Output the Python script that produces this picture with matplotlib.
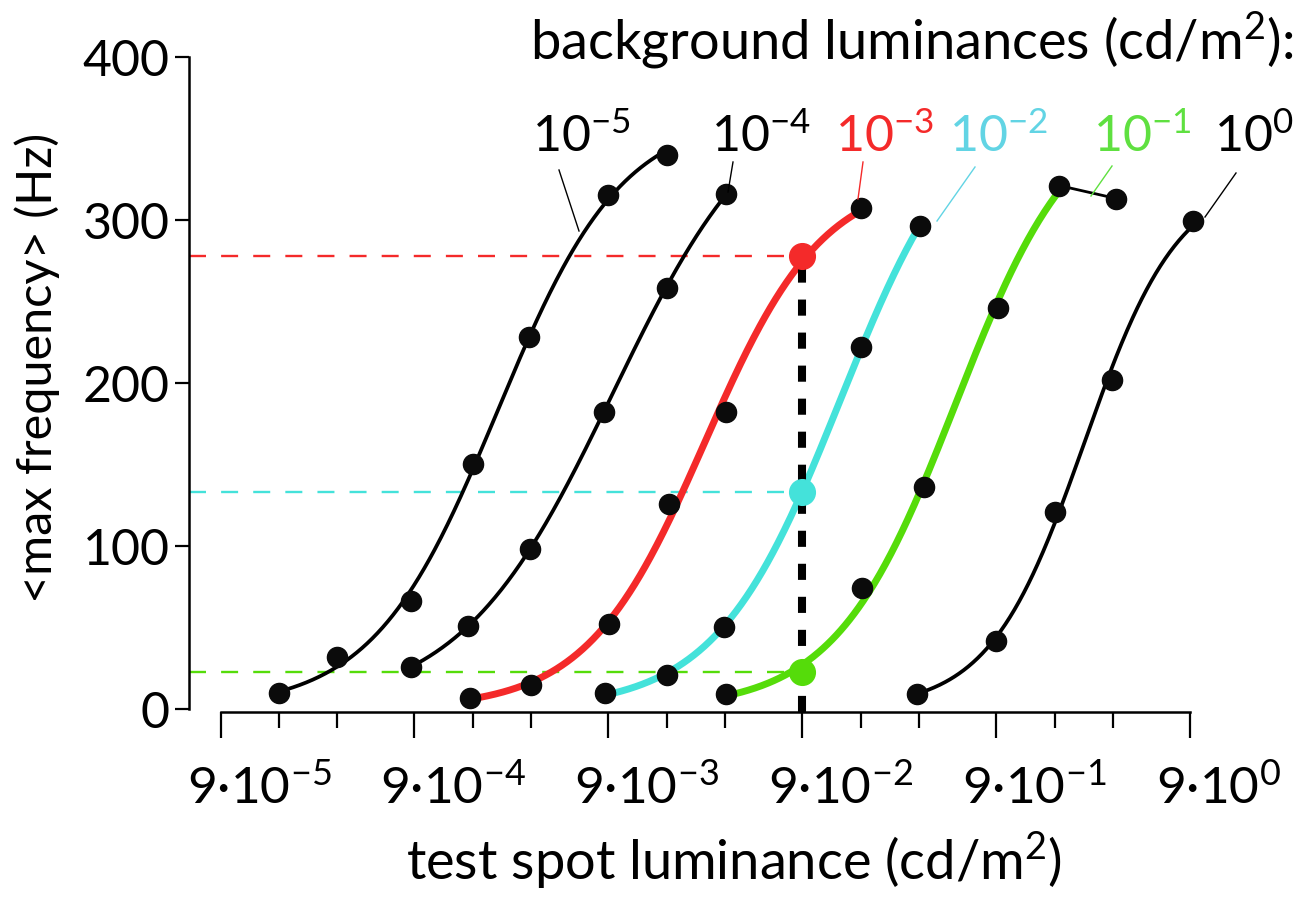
import numpy as np
import matplotlib.pyplot as plt
from matplotlib import font_manager
from matplotlib.lines import Line2D
from matplotlib.transforms import ScaledTranslation

installed = {f.name for f in font_manager.fontManager.ttflist}
family = 'Lato' if 'Lato' in installed else 'DejaVu Sans'
plt.rcParams['font.family'] = [family, 'DejaVu Sans']
plt.rcParams['mathtext.fontset'] = 'custom'
plt.rcParams['mathtext.rm'] = family
plt.rcParams['mathtext.default'] = 'rm'

# test spot luminance (cd/m^2) and mean max frequency (Hz), one pair per background
x_bg5 = [1.8e-4, 3.6e-4, 8.6e-4, 1.8e-3, 3.5e-3, 9.0e-3, 1.8e-2]
y_bg5 = [10, 32, 66, 150, 228, 315, 340]
x_bg4 = [8.6e-4, 1.7e-3, 3.55e-3, 8.5e-3, 1.8e-2, 3.65e-2]
y_bg4 = [26, 51, 98, 182, 258, 316]
x_bg3 = [1.75e-3, 3.6e-3, 9.1e-3, 1.85e-2, 3.65e-2, 9.0e-2, 0.18]
y_bg3 = [7, 15, 52, 126, 182, 278, 307]
x_bg2 = [8.7e-3, 1.8e-2, 3.55e-2, 9.0e-2, 0.18, 0.365]
y_bg2 = [10, 21, 50, 133, 222, 296]
x_bg1 = [3.65e-2, 9.0e-2, 0.183, 0.38, 0.92, 1.9]
y_bg1 = [9.5, 22.6, 74, 136, 246, 321]
x_bg1_sat = [1.9, 3.75]     # last point left out of the fit
y_bg1_sat = [321, 313]
x_bg0 = [0.35, 0.9, 1.8, 3.55, 9.3]
y_bg0 = [9, 42, 121, 202, 299]

bg_labels = ['$10^{-5}$', '$10^{-4}$', '$10^{-3}$', '$10^{-2}$', '$10^{-1}$', '$10^{0}$']
x_cross = 9e-2   # test luminance picked out on the three coloured curves

major_ticks = [9e-5, 9e-4, 9e-3, 9e-2, 9e-1, 9e0]
major_labels = ['9·10$^{-5}$', '9·10$^{-4}$', '9·10$^{-3}$', '9·10$^{-2}$',
                '9·10$^{-1}$', '9·10$^{0}$']
minor_ticks = [1.8e-4, 3.6e-4, 1.8e-3, 3.6e-3, 1.8e-2, 3.6e-2, 0.18, 0.36, 1.8, 3.6]

RED = '#f42a2a'
CYAN = '#44e2da'
GREEN = '#55dc0a'
CYAN_T = '#62d4e4'
GREEN_T = '#5fe040'
DOT = '#0b0b0b'


def hill_fit(x, y):
    # Poisson-weighted least squares Hill curve y = A / (1 + (c/x)^n),
    # grid over n and log c, A solved directly
    u = np.log10(np.asarray(x, float))
    y = np.asarray(y, float)
    w = 1.0 / y
    ns = np.linspace(1.0, 5.0, 161)
    cs = np.linspace(u.min() - 0.5, u.max() + 1.0, 601)
    N, C = np.meshgrid(ns, cs, indexing='ij')
    f = 1.0 / (1.0 + 10 ** (N[..., None] * (C[..., None] - u)))
    amp = (w * f * y).sum(-1) / (w * f * f).sum(-1)
    sse = (w * (amp[..., None] * f - y) ** 2).sum(-1)
    i = np.unravel_index(np.argmin(sse), sse.shape)
    return amp[i], ns[i[0]], cs[i[1]]


def hill(p, x):
    a, n, c = p
    return a / (1.0 + 10 ** (n * (c - np.log10(x))))


fig = plt.figure(figsize=(13.08, 9.03), dpi=100)
ax = fig.add_axes([189 / 1308, 1 - 713 / 903, 1011 / 1308, 663 / 903])
ax.set_xscale('log')
ax.set_xlim(6.19e-5, 10.13)
ax.set_ylim(-1.84, 404.7)

series = [
    (x_bg5, y_bg5, 'k', 2.7),
    (x_bg4, y_bg4, 'k', 2.7),
    (x_bg3, y_bg3, RED, 5.0),
    (x_bg2, y_bg2, CYAN, 5.0),
    (x_bg1, y_bg1, GREEN, 5.0),
    (x_bg0, y_bg0, 'k', 2.7),
]
for xs, ys, col, lw in series:
    p = hill_fit(xs, ys)
    xx = np.logspace(np.log10(xs[0]), np.log10(xs[-1]), 300)
    ax.plot(xx, hill(p, xx), color=col, lw=lw, solid_capstyle='round', zorder=3, clip_on=False)

# the responses at x_cross on the three coloured curves
picked = [(s[1][s[0].index(x_cross)], s[2]) for s in series[2:5]]
for v, col in picked:
    ax.plot([ax.get_xlim()[0], x_cross], [v, v], color=col, lw=1.7,
            linestyle=(0, (7.2, 6.4)), zorder=1, clip_on=False)
ax.plot([x_cross, x_cross], [ax.get_ylim()[0], picked[0][0]], color='k', lw=5.8,
        linestyle=(0, (2.0, 2.1)), zorder=4, clip_on=False)

ax.plot(x_bg1_sat, y_bg1_sat, color='k', lw=2.0, zorder=3)
for xs, ys, col, lw in series:
    keep = [i for i, xv in enumerate(xs) if col == 'k' or xv != x_cross]
    ax.plot([xs[i] for i in keep], [ys[i] for i in keep], 'o', color=DOT, ms=14.5,
            zorder=5, clip_on=False)
ax.plot(x_bg1_sat[1:], y_bg1_sat[1:], 'o', color=DOT, ms=14.5, zorder=5)
for v, col in picked:
    ax.plot([x_cross], [v], 'o', color=col, ms=18.5, zorder=6, clip_on=False)

for s in ['top', 'right']:
    ax.spines[s].set_visible(False)
ax.spines['left'].set_bounds(0, 400)
ax.spines['bottom'].set_bounds(9e-5, 9)
for s in ['left', 'bottom']:
    ax.spines[s].set_linewidth(1.8)

ax.set_xticks(major_ticks)
ax.set_xticklabels(major_labels)
ax.set_xticks(minor_ticks, minor=True)
ax.set_xticklabels([], minor=True)
ax.set_yticks([0, 100, 200, 300, 400])
ax.tick_params(axis='x', which='major', length=19, width=1.6, pad=18, labelsize=37)
ax.tick_params(axis='x', which='minor', length=11.5, width=1.6)
ax.tick_params(axis='y', length=10, width=1.6, pad=4, labelsize=36)

shift = ScaledTranslation(-34 / 100, 0, fig.dpi_scale_trans)
for lbl in ax.get_xticklabels():
    lbl.set_horizontalalignment('left')
    lbl.set_transform(lbl.get_transform() + shift)

ax.set_xlabel('test spot luminance (cd/m$^2$)', fontsize=39)
ax.xaxis.set_label_coords(0.539, -0.178)
ax.set_ylabel('<max frequency> (Hz)', fontsize=35)
ax.yaxis.set_label_coords(-0.128, 0.52)


def px(x, y):
    return x / 1308, 1 - y / 903


fig.text(*px(1293, 60), 'background luminances (cd/m$^2$):', fontsize=39,
         ha='right', va='baseline')

label_pos = [(532, 152), (711, 152), (835, 152), (949, 152), (1093, 152), (1214, 152)]
label_cols = ['k', 'k', RED, CYAN_T, GREEN_T, 'k']
leaders = [((559, 171), (579, 232)), ((733, 163), (728, 193)), ((863, 163), (858, 200)),
           ((975, 168), (937, 222)), ((1112, 167), (1091, 197)), ((1236, 174), (1205, 218))]
for txt, (lx, ly), col, ((x0, y0), (x1, y1)) in zip(bg_labels, label_pos, label_cols, leaders):
    fig.text(*px(lx, ly), txt, fontsize=36, color=col, ha='left', va='baseline')
    a, b = px(x0, y0)
    c, d = px(x1, y1)
    fig.add_artist(Line2D([a, c], [b, d], color=col, lw=1.0))

fig.savefig('out.png', dpi=100)
